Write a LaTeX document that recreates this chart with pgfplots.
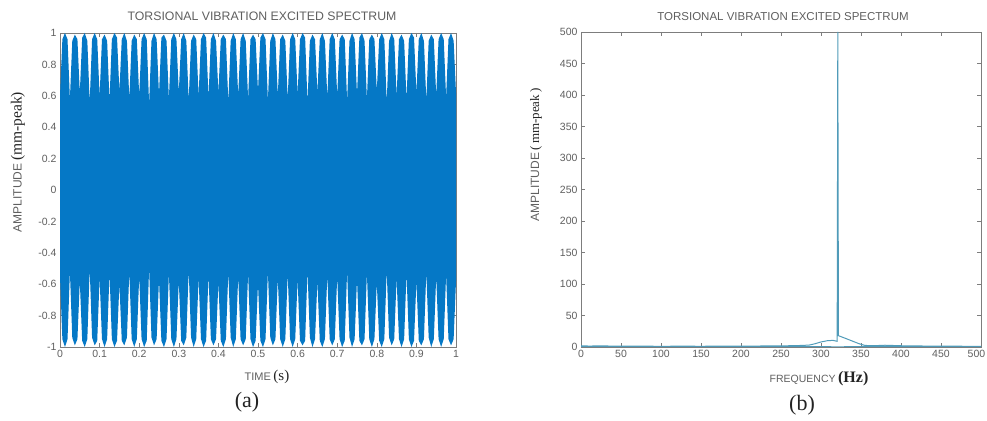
\documentclass[border=0pt]{standalone}
\usepackage{pgfplots}
\pgfplotsset{compat=1.18}
\usepackage{pgfplotstable}
\usepackage{fontspec}
\setmainfont{Liberation Serif}
\setsansfont{Liberation Sans}
\definecolor{mblue}{RGB}{5,120,198}
\definecolor{specc}{RGB}{80,155,185}
\definecolor{axgray}{RGB}{125,125,125}
\definecolor{txtgray}{RGB}{95,95,95}
\definecolor{dark}{RGB}{35,35,35}

% envelope of the time signal: upper edge from t=0 to 1, then lower edge back from t=1 to 0
\pgfplotstableread{
t v
0.000 0.60
0.006 0.96
0.0125 1.00
0.019 0.96
0.025 0.58
0.031 0.95
0.0375 0.99
0.044 0.96
0.050 0.62
0.056 0.97
0.0625 1.00
0.069 0.95
0.075 0.56
0.081 0.96
0.0875 1.00
0.094 0.96
0.100 0.60
0.106 0.96
0.1125 0.99
0.119 0.95
0.125 0.57
0.131 0.96
0.1375 1.00
0.144 0.97
0.150 0.63
0.156 0.96
0.1625 1.00
0.169 0.95
0.175 0.58
0.181 0.95
0.1875 0.99
0.194 0.96
0.200 0.60
0.206 0.96
0.2125 1.00
0.219 0.96
0.225 0.55
0.231 0.95
0.2375 1.00
0.244 0.96
0.250 0.61
0.256 0.97
0.2625 0.99
0.269 0.95
0.275 0.58
0.281 0.96
0.2875 1.00
0.294 0.96
0.300 0.62
0.306 0.96
0.3125 1.00
0.319 0.95
0.325 0.57
0.331 0.95
0.3375 0.99
0.344 0.96
0.350 0.60
0.356 0.96
0.3625 1.00
0.369 0.97
0.375 0.59
0.381 0.96
0.3875 1.00
0.394 0.95
0.400 0.62
0.406 0.96
0.4125 0.99
0.419 0.96
0.425 0.56
0.431 0.95
0.4375 1.00
0.444 0.96
0.450 0.60
0.456 0.96
0.4625 1.00
0.469 0.95
0.475 0.58
0.481 0.96
0.4875 0.99
0.494 0.96
0.500 0.63
0.506 0.97
0.5125 1.00
0.519 0.96
0.525 0.57
0.531 0.95
0.5375 1.00
0.544 0.96
0.550 0.60
0.556 0.96
0.5625 0.99
0.569 0.95
0.575 0.58
0.581 0.96
0.5875 1.00
0.594 0.96
0.600 0.61
0.606 0.96
0.6125 1.00
0.619 0.97
0.625 0.56
0.631 0.95
0.6375 0.99
0.644 0.96
0.650 0.62
0.656 0.96
0.6625 1.00
0.669 0.95
0.675 0.59
0.681 0.96
0.6875 1.00
0.694 0.96
0.700 0.60
0.706 0.96
0.7125 0.99
0.719 0.96
0.725 0.57
0.731 0.95
0.7375 1.00
0.744 0.96
0.750 0.61
0.756 0.97
0.7625 1.00
0.769 0.95
0.775 0.58
0.781 0.96
0.7875 0.99
0.794 0.96
0.800 0.63
0.806 0.96
0.8125 1.00
0.819 0.96
0.825 0.56
0.831 0.95
0.8375 1.00
0.844 0.96
0.850 0.60
0.856 0.96
0.8625 0.99
0.869 0.95
0.875 0.58
0.881 0.96
0.8875 1.00
0.894 0.97
0.900 0.62
0.906 0.96
0.9125 1.00
0.919 0.95
0.925 0.57
0.931 0.95
0.9375 0.99
0.944 0.96
0.950 0.60
0.956 0.96
0.9625 1.00
0.969 0.96
0.975 0.59
0.981 0.96
0.9875 1.00
0.994 0.95
1.000 0.62
1.000 -0.58
0.994 -0.95
0.9875 -0.99
0.981 -0.95
0.975 -0.54
0.969 -0.95
0.9625 -1.00
0.956 -0.95
0.950 -0.55
0.944 -0.95
0.9375 -1.00
0.931 -0.94
0.925 -0.52
0.919 -0.95
0.9125 -0.99
0.906 -0.96
0.900 -0.58
0.894 -0.96
0.8875 -1.00
0.881 -0.95
0.875 -0.53
0.869 -0.95
0.8625 -1.00
0.856 -0.95
0.850 -0.56
0.844 -0.95
0.8375 -0.99
0.831 -0.94
0.825 -0.51
0.819 -0.95
0.8125 -1.00
0.806 -0.96
0.800 -0.59
0.794 -0.95
0.7875 -1.00
0.781 -0.95
0.775 -0.53
0.769 -0.95
0.7625 -0.99
0.756 -0.96
0.750 -0.57
0.744 -0.95
0.7375 -1.00
0.731 -0.94
0.725 -0.52
0.719 -0.96
0.7125 -1.00
0.706 -0.95
0.700 -0.55
0.694 -0.95
0.6875 -0.99
0.681 -0.95
0.675 -0.54
0.669 -0.95
0.6625 -1.00
0.656 -0.96
0.650 -0.58
0.644 -0.95
0.6375 -1.00
0.631 -0.94
0.625 -0.51
0.619 -0.96
0.6125 -0.99
0.606 -0.96
0.600 -0.57
0.594 -0.95
0.5875 -1.00
0.581 -0.95
0.575 -0.53
0.569 -0.95
0.5625 -1.00
0.556 -0.95
0.550 -0.56
0.544 -0.95
0.5375 -0.99
0.531 -0.94
0.525 -0.52
0.519 -0.95
0.5125 -1.00
0.506 -0.96
0.500 -0.60
0.494 -0.96
0.4875 -1.00
0.481 -0.95
0.475 -0.53
0.469 -0.95
0.4625 -0.99
0.456 -0.95
0.450 -0.55
0.444 -0.95
0.4375 -1.00
0.431 -0.94
0.425 -0.52
0.419 -0.95
0.4125 -1.00
0.406 -0.96
0.400 -0.59
0.394 -0.95
0.3875 -0.99
0.381 -0.95
0.375 -0.54
0.369 -0.96
0.3625 -1.00
0.356 -0.95
0.350 -0.56
0.344 -0.95
0.3375 -1.00
0.331 -0.94
0.325 -0.51
0.319 -0.94
0.3125 -0.99
0.306 -0.96
0.300 -0.58
0.294 -0.95
0.2875 -1.00
0.281 -0.95
0.275 -0.53
0.269 -0.95
0.2625 -1.00
0.256 -0.96
0.250 -0.57
0.244 -0.95
0.2375 -0.99
0.231 -0.94
0.225 -0.50
0.219 -0.96
0.2125 -1.00
0.206 -0.95
0.200 -0.55
0.194 -0.95
0.1875 -1.00
0.181 -0.95
0.175 -0.52
0.169 -0.94
0.1625 -0.99
0.156 -0.96
0.150 -0.60
0.144 -0.96
0.1375 -1.00
0.131 -0.95
0.125 -0.53
0.119 -0.95
0.1125 -1.00
0.106 -0.95
0.100 -0.56
0.094 -0.96
0.0875 -0.99
0.081 -0.94
0.075 -0.50
0.069 -0.95
0.0625 -1.00
0.056 -0.96
0.050 -0.58
0.044 -0.95
0.0375 -0.99
0.031 -0.94
0.025 -0.52
0.019 -0.95
0.0125 -1.00
0.006 -0.95
0.000 -0.55
}\sigtable

\pgfplotstableread{
f a
0 2.0
10 1.5
25 1.8
50 1.2
75 1.5
100 1.0
125 1.4
150 1.1
175 1.5
200 1.2
225 1.6
250 1.8
270 2.2
285 3.0
292 5.0
300 8.0
308 10.0
315 10.5
320.2 9.0
321 500
321.8 18
330 14
340 9
348 5
355 2.5
365 2.0
380 2.8
400 2.0
425 1.6
450 1.4
475 1.2
500 1.0
}\specA

\pgfplotstableread{
f a
0 0.5
100 0.6
200 0.5
285 0.8
300 0.6
320 0.4
322 0.4
340 0.6
355 1.0
400 0.6
500 0.5
}\specB

\pgfplotsset{
  mystyle/.style={
    scale only axis,
    anchor=south west,
    axis line style={axgray, line width=0.6pt},
    tick style={axgray, line width=0.5pt},
    major tick length=4pt,
    tick label style={font=\sffamily\fontsize{10.5}{12}\selectfont, text=txtgray},
    /pgf/number format/assume math mode=true,
    /pgf/number format/fixed,
  }
}

\begin{document}
\begin{tikzpicture}
\path[use as bounding box] (0pt,0pt) rectangle (987pt,420pt);

\begin{axis}[mystyle, at={(60pt,73pt)}, width=396pt, height=314pt,
  xmin=0, xmax=1, ymin=-1, ymax=1,
  xtick={0,0.1,0.2,0.3,0.4,0.5,0.6,0.7,0.8,0.9,1},
  ytick={-1,-0.8,-0.6,-0.4,-0.2,0,0.2,0.4,0.6,0.8,1}]
\addplot[fill=mblue, draw=none] table[x=t, y=v] {\sigtable};
\end{axis}

\begin{axis}[mystyle, at={(581pt,73pt)}, width=400pt, height=315pt,
  xmin=0, xmax=500, ymin=0, ymax=500,
  xtick={0,50,100,150,200,250,300,350,400,450,500},
  xticklabels={0,50,100,150,200,250,300,350,400,450,\hspace*{-9pt}500},
  ytick={0,50,100,150,200,250,300,350,400,450,500}]
\addplot[specc, line width=1pt] table[x=f, y=a] {\specA};
\addplot[specc, line width=0.9pt] table[x=f, y=a] {\specB};
\end{axis}

% titles
\node[font=\sffamily\fontsize{12.3}{14}\selectfont, text=txtgray] at (262pt,404pt) {TORSIONAL VIBRATION EXCITED SPECTRUM};
\node[font=\sffamily\fontsize{11.5}{13}\selectfont, text=txtgray] at (783pt,403pt) {TORSIONAL VIBRATION EXCITED SPECTRUM};

% x labels
\node at (267pt,43pt) {{\sffamily\fontsize{11}{13}\selectfont\color{txtgray}TIME} {\fontsize{15}{17}\selectfont\color{dark}(s)}};
\node at (819pt,41pt) {{\sffamily\fontsize{10.5}{13}\selectfont\color{txtgray}FREQUENCY} {\fontsize{16}{18}\selectfont\bfseries\color{dark}(Hz)}};

% panel labels
\node[font=\fontsize{22}{24}\selectfont, text=dark] at (247pt,18pt) {(a)};
\node[font=\fontsize{22}{24}\selectfont, text=dark] at (802pt,15pt) {(b)};

% y labels
\node[rotate=90] at (18pt,258pt) {{\sffamily\fontsize{12}{14}\selectfont\color{txtgray}AMPLITUDE} {\fontsize{15.5}{17}\selectfont\color{dark}(mm-peak)}};
\node[rotate=90] at (536pt,265pt) {{\sffamily\fontsize{12}{14}\selectfont\color{txtgray}AMPLITUDE} {\fontsize{13}{15}\selectfont\color{dark}(\,mm-peak\,)}};
\end{tikzpicture}
\end{document}
